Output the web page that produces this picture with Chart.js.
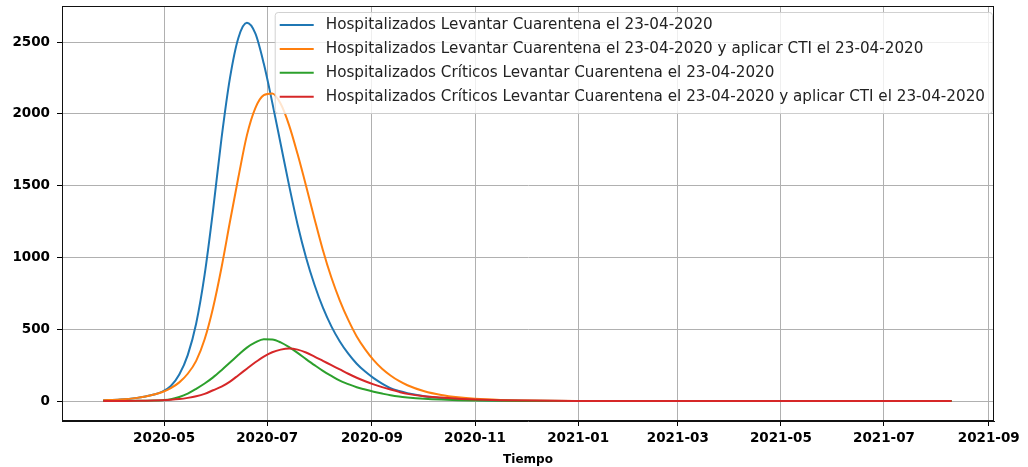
<!DOCTYPE html>
<html><head><meta charset="utf-8">
<script src="https://cdn.jsdelivr.net/npm/chart.js@4.4.1/dist/chart.umd.min.js"></script>
<style>html,body{margin:0;padding:0;background:#fff;overflow:hidden}</style>
</head><body>
<canvas id="c" width="1028" height="467"></canvas>
<script>
// ---- data (x = days since 2020-03-26) ----
const startDate = Date.UTC(2020, 2, 26);
const days = [0,10,20,25,30,35,40,45,50,55,60,65,70,75,80,85,90,95,100,105,110,115,120,125,130,135,140,145,150,155,160,165,170,175,180,190,200,210,220,235,250,280,320,400,502];
const hospLevantar = [5,10,22,32,45,65,105,185,320,540,880,1330,1830,2250,2530,2634,2560,2350,2080,1790,1500,1230,1000,810,650,520,415,330,260,205,160,122,90,70,55,34,21,12,7,3,1.5,0.5,0.2,0,0];
const hospLevantarCTI = [5,10,22,32,45,63,90,130,190,280,430,650,930,1250,1560,1850,2040,2130,2142,2070,1920,1720,1500,1270,1050,860,700,565,450,360,285,225,178,140,110,68,42,26,16,8,4,1,0.3,0,0];
const critLevantar = [0.5,1,1.5,2,3,6,12,28,52,85,122,165,215,268,322,372,408,430,428,408,375,335,292,250,210,175,142,118,96,80,65,52,40,31,25,16,10,6,4,2,1,0.3,0,0,0];
const critLevantarCTI = [0.5,1,1.5,2.5,4,6,9,14,22,33,50,75,100,135,180,225,270,310,340,358,366,358,338,310,280,250,220,190,162,138,116,97,80,64,50,33,24,16,11,6,3,1,0.5,0,0];
const seriesLabels = [
  'Hospitalizados Levantar Cuarentena el 23-04-2020',
  'Hospitalizados Levantar Cuarentena el 23-04-2020 y aplicar CTI el 23-04-2020',
  'Hospitalizados Críticos Levantar Cuarentena el 23-04-2020',
  'Hospitalizados Críticos Levantar Cuarentena el 23-04-2020 y aplicar CTI el 23-04-2020'
];
const seriesColors = ['#1f77b4', '#ff7f0e', '#2ca02c', '#d62728'];
const xTickLabels = ['2020-05','2020-07','2020-09','2020-11','2021-01','2021-03','2021-05','2021-07','2021-09'];
const yTicks = [0, 500, 1000, 1500, 2000, 2500];
const xAxisTitle = 'Tiempo';

const xTickValues = xTickLabels.map(s => {
  const [y, m] = s.split('-').map(Number);
  return (Date.UTC(y, m - 1, 1) - startDate) / 86400000;
});
const seriesValues = [hospLevantar, hospLevantarCTI, critLevantar, critLevantarCTI];

const datasets = seriesValues.map((vals, i) => ({
  label: seriesLabels[i],
  data: days.map((d, j) => ({ x: d, y: vals[j] })),
  borderColor: seriesColors[i],
  backgroundColor: seriesColors[i],
  borderWidth: 2,
  pointRadius: 0,
  fill: false,
  cubicInterpolationMode: 'monotone',
  order: 4 - i
}));

const overlay = {
  id: 'overlay',
  afterDraw(chart) {
    const ctx = chart.ctx, a = chart.chartArea;
    ctx.save();
    ctx.font = '15.2px "DejaVu Sans"';
    let maxW = 0;
    seriesLabels.forEach(t => { maxW = Math.max(maxW, ctx.measureText(t).width); });
    const boxW = maxW + 58, boxH = 101;
    const boxR = a.right - 2, boxT = a.top + 6;
    const boxL = boxR - boxW;
    ctx.beginPath();
    ctx.roundRect(boxL + 0.5, boxT + 0.5, boxW, boxH, 3);
    ctx.fillStyle = 'rgba(255,255,255,0.8)';
    ctx.fill();
    ctx.strokeStyle = 'rgba(204,204,204,0.9)';
    ctx.lineWidth = 1;
    ctx.stroke();
    ctx.textBaseline = 'middle';
    ctx.textAlign = 'left';
    seriesLabels.forEach((t, i) => {
      const yy = boxT + 13 + i * 23.9;
      ctx.strokeStyle = seriesColors[i];
      ctx.lineWidth = 2;
      ctx.beginPath();
      ctx.moveTo(boxL + 5, yy);
      ctx.lineTo(boxL + 39, yy);
      ctx.stroke();
      ctx.fillStyle = '#222';
      ctx.fillText(t, boxL + 51, yy);
    });
    ctx.strokeStyle = '#111';
    ctx.lineWidth = 1;
    ctx.strokeRect(Math.round(a.left) + 0.5, Math.round(a.top) + 0.5, Math.round(a.right - a.left) - 1, Math.round(a.bottom - a.top) - 1);
    ctx.restore();
  }
};

new Chart(document.getElementById('c'), {
  type: 'line',
  data: { datasets },
  plugins: [overlay],
  options: {
    responsive: false,
    animation: false,
    devicePixelRatio: 1,
    layout: { padding: { top: 6, right: 34, left: 0, bottom: 0 } },
    plugins: { legend: { display: false }, tooltip: { enabled: false }, title: { display: false } },
    scales: {
      x: {
        type: 'linear',
        min: -24.4, max: 527.1,
        afterBuildTicks: s => { s.ticks = xTickValues.map(v => ({ value: v })); },
        afterFit: s => { s.height = 46; s.paddingLeft = 0; s.paddingRight = 0; },
        ticks: {
          autoSkip: false, maxRotation: 0, padding: 4, color: '#000',
          font: { family: 'DejaVu Sans', size: 13.5, weight: 'bold' },
          callback: v => { const k = xTickValues.indexOf(v); return k >= 0 ? xTickLabels[k] : ''; }
        },
        grid: { color: '#b0b0b0', lineWidth: 1, tickColor: '#000', tickLength: 5 },
        border: { display: true, color: '#111', width: 1 },
        title: { display: true, text: xAxisTitle, color: '#000', padding: { top: 0, bottom: 0 },
                 font: { family: 'DejaVu Sans', size: 12, weight: 'bold' } }
      },
      y: {
        type: 'linear',
        min: -139, max: 2751,
        afterBuildTicks: s => { s.ticks = yTicks.map(v => ({ value: v })); },
        afterFit: s => { s.width = 62; s.paddingTop = 0; s.paddingBottom = 0; },
        ticks: {
          padding: 7, color: '#000',
          font: { family: 'DejaVu Sans', size: 13.5, weight: 'bold' },
          callback: v => String(v)
        },
        grid: { color: '#b0b0b0', lineWidth: 1, tickColor: '#000', tickLength: 5 },
        border: { display: true, color: '#111', width: 1 }
      }
    }
  }
});
</script>
</body></html>
